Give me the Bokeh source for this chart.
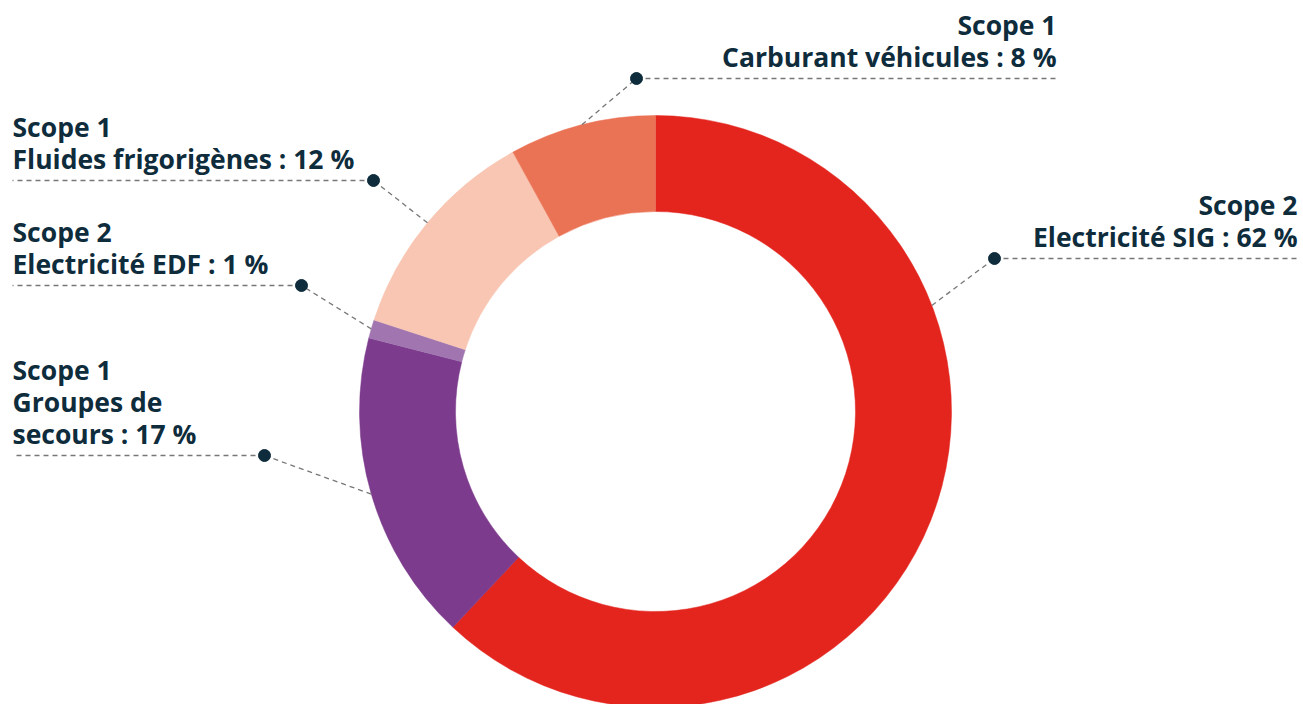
import math
from bokeh.plotting import figure
from bokeh.models import Range1d, ColumnDataSource
from bokeh.core.properties import value
from bokeh.embed import file_html
from bokeh.resources import INLINE

# ---- data ----
scopes = ["Scope 2", "Scope 1", "Scope 2", "Scope 1", "Scope 1"]
names = ["Electricité SIG", "Groupes de secours", "Electricité EDF",
         "Fluides frigorigènes", "Carburant véhicules"]
values = [62, 17, 1, 12, 8]
colors = ["#e3251e", "#7c3b8c", "#a176b0", "#f8c6b3", "#ea7355"]

# ---- layout (screen pixel coordinates, y downward) ----
W, H = 1303, 704
CX, CY = 655, 411
R_OUT, R_IN = 296, 200
label_lines = [
    ["Scope 2", "Electricité SIG : 62 %"],
    ["Scope 1", "Groupes de", "secours : 17 %"],
    ["Scope 2", "Electricité EDF : 1 %"],
    ["Scope 1", "Fluides frigorigènes : 12 %"],
    ["Scope 1", "Carburant véhicules : 8 %"],
]
dot_x = [994, 264, 301, 373, 636]
dot_y = [258, 455, 285, 180, 78]
line_far_x = [1297, 12, 12, 12, 1056]
align = ["right", "left", "left", "left", "right"]
leader_angle_override = {0: 69.0}  # degrees clockwise from top

def sy(y):  # screen y -> data y
    return H - y

p = figure(width=W, height=H, output_backend="svg", toolbar_location=None,
           x_range=Range1d(0, W), y_range=Range1d(0, H),
           min_border=0, match_aspect=False)
p.axis.visible = False
p.grid.visible = False
p.outline_line_color = None
p.background_fill_color = "white"
p.border_fill_color = "white"

total = sum(values)
cum = 0.0
starts, ends, mids = [], [], []
for v in values:
    a = cum / total
    b = (cum + v) / total
    starts.append(math.pi / 2 - 2 * math.pi * b)
    ends.append(math.pi / 2 - 2 * math.pi * a)
    mids.append((a + b) / 2 * 360.0)
    cum += v

src = ColumnDataSource(dict(x=[CX] * len(values), y=[sy(CY)] * len(values),
                            start=starts, end=ends, color=colors))
p.annular_wedge(x="x", y="y", inner_radius=R_IN, outer_radius=R_OUT,
                start_angle="start", end_angle="end", direction="anticlock",
                fill_color="color", line_color="color", line_width=0.5, source=src)

TXT = "#0e2c3b"
FONT = "Open Sans"
FS = "26.5px"
LINE_H = 32

for i in range(len(values)):
    ang = math.radians(leader_angle_override.get(i, mids[i]))
    ex = CX + R_OUT * math.sin(ang)
    ey = CY - R_OUT * math.cos(ang)
    p.line([ex, dot_x[i]], [sy(ey), sy(dot_y[i])], line_color="#777777",
           line_width=1.3, line_dash="5 4")
    p.line([dot_x[i], line_far_x[i]], [sy(dot_y[i]), sy(dot_y[i])],
           line_color="#777777", line_width=1.3, line_dash="5 4")
    p.scatter([dot_x[i]], [sy(dot_y[i])], size=12, fill_color=TXT, line_color=TXT)
    lines = label_lines[i]
    n = len(lines)
    tx = line_far_x[i]
    ys = [dot_y[i] - 22 - LINE_H * (n - 1 - k) for k in range(n)]
    p.text(x=[tx] * n, y=[sy(v) for v in ys], text=lines,
           text_font=value(FONT), text_font_style="bold", text_font_size=FS,
           text_color=TXT, text_align=align[i], text_baseline="alphabetic")

open("out.html", "w").write(file_html(p, INLINE))
